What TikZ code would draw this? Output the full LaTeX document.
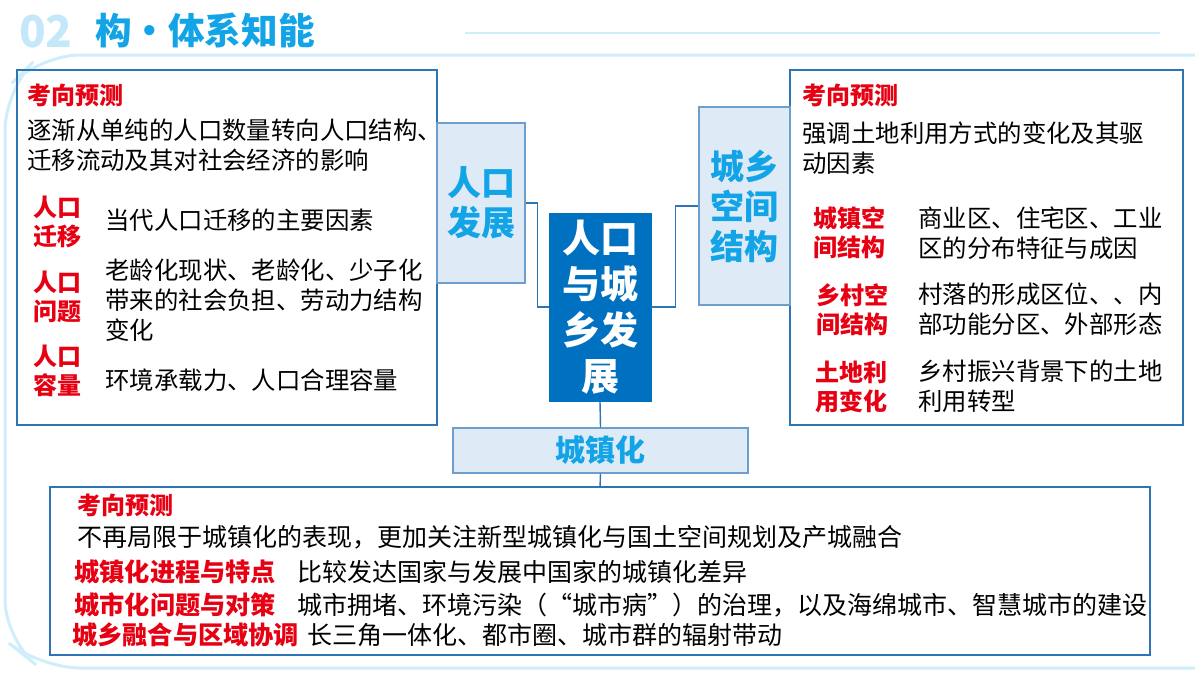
\documentclass[tikz,border=0pt]{standalone}
\usepackage{fontspec}
\setmainfont{Noto Sans CJK SC}
\definecolor{darkblue}{HTML}{0070C0}
\definecolor{lineblue}{HTML}{2E75B6}
\definecolor{paleblue}{HTML}{DEEBF7}
\definecolor{cyanblue}{HTML}{12A4E6}
\definecolor{redtext}{HTML}{E60012}
\usetikzlibrary{positioning}

\tikzset{
  panel/.style={draw=lineblue, line width=0.8pt},
  labelbox/.style={draw=lineblue!70, fill=paleblue, line width=0.6pt},
  tag/.style={font=\bfseries\fontsize{17}{20}\selectfont, text=cyanblue, align=center},
  head/.style={anchor=west, font=\bfseries\fontsize{12}{14}\selectfont, text=redtext, inner sep=0pt},
  body/.style={anchor=west, font=\fontsize{12.2}{15}\selectfont, align=left, inner sep=0pt},
  wide/.style={anchor=west, font=\fontsize{12.5}{15}\selectfont, inner sep=0pt},
  key/.style={font=\bfseries\fontsize{12}{14.5}\selectfont, text=redtext, align=center, inner sep=0pt},
  link/.style={draw=lineblue, line width=0.7pt}
}

\begin{document}
\begin{tikzpicture}[x=0.5pt, y=-0.5pt]
  \useasboundingbox (0,0) rectangle (1200,675);
  % title bar
  \node[anchor=west, font=\bfseries\fontsize{22}{24}\selectfont, text=cyanblue!25] (num) at (12,32) {02};
  \node[anchor=west, font=\bfseries\fontsize{18.3}{20}\selectfont, text=cyanblue] (title) at (88,30) {构·体系知能};
  \draw[cyanblue!20, line width=1pt] (465,33) -- (1160,33);
  \draw[cyanblue!20, line width=1.5pt, rounded corners=20pt] (1195,55) -- (40,55) -- (5,90) -- (5,640) -- (40,668) -- (1195,668);

  % boxes
  \draw[panel] (17,70) rectangle (437,425);
  \draw[panel] (790,70) rectangle (1183,425);
  \draw[panel] (50,487) rectangle (1150,655);
  \node[labelbox, minimum width=44pt, minimum height=80pt, tag] (pop) at (481,203) {人口\\发展};
  \node[labelbox, minimum width=45.5pt, minimum height=99pt, tag] (space) at (744.5,206) {城乡\\空间\\结构};
  \node[labelbox, minimum width=147.5pt, minimum height=22.5pt, tag, font=\bfseries\fontsize{15}{18}\selectfont] (urban) at (600.5,450.5) {城镇化};
  \node[draw=darkblue, fill=darkblue, minimum width=51pt, minimum height=94pt, align=center,
        text=white, font=\bfseries\fontsize{19}{23}\selectfont] (core) at (600,307) {人口\\与城\\乡发\\展};
  \coordinate (bottomtop) at (600,487);

  % connectors
  \draw[link] (pop.east) -- ++(12,0) |- (core.west);
  \draw[link] (core.east) -- ++(24,0) |- (space.west);
  \draw[link] (core.south) -- (urban.north);
  \draw[link] (urban.south) -- (bottomtop);

  % left panel
  \node[head] (lhead) at (27,95) {考向预测};
  \node[body] (ltext) at (27,145) {逐渐从单纯的人口数量转向人口结构、\\迁移流动及其对社会经济的影响};
  \node[key] (lk1) at (57,222) {人口\\迁移};
  \node[body] (ld1) at (105,220) {当代人口迁移的主要因素};
  \node[key] (lk2) at (57,297) {人口\\问题};
  \node[body] (ld2) at (105,300) {老龄化现状、老龄化、少子化\\带来的社会负担、劳动力结构\\变化};
  \node[key] (lk3) at (57,371) {人口\\容量};
  \node[body] (ld3) at (105,380) {环境承载力、人口合理容量};

  % right panel
  \node[head] (rhead) at (802,95) {考向预测};
  \node[body] (rtext) at (802,148) {强调土地利用方式的变化及其驱\\动因素};
  \node[key] (rk1) at (849,233) {城镇空\\间结构};
  \node[body] (rd1) at (918,233) {商业区、住宅区、工业\\区的分布特征与成因};
  \node[key] (rk2) at (852,310) {乡村空\\间结构};
  \node[body] (rd2) at (918,309) {村落的形成区位、、内\\部功能分区、外部形态};
  \node[key] (rk3) at (851,387) {土地利\\用变化};
  \node[body] (rd3) at (918,386) {乡村振兴背景下的土地\\利用转型};

  % bottom panel
  \node[head] (bhead) at (77,505) {考向预测};
  \node[wide] (btext) at (77,537) {不再局限于城镇化的表现，更加关注新型城镇化与国土空间规划及产城融合};
  \node[key, anchor=west, font=\bfseries\fontsize{12.6}{14}\selectfont] (bk1) at (74,572) {城镇化进程与特点};
  \node[wide] (bd1) at (297,572) {比较发达国家与发展中国家的城镇化差异};
  \node[key, anchor=west, font=\bfseries\fontsize{12.6}{14}\selectfont] (bk2) at (74,605) {城市化问题与对策};
  \node[wide] (bd2) at (297,605) {城市拥堵、环境污染（“城市病”）的治理，以及海绵城市、智慧城市的建设};
  \node[key, anchor=west, font=\bfseries\fontsize{12.6}{14}\selectfont] (bk3) at (72,635) {城乡融合与区域协调};
  \node[wide] (bd3) at (307,635) {长三角一体化、都市圈、城市群的辐射带动};
\end{tikzpicture}
\end{document}
